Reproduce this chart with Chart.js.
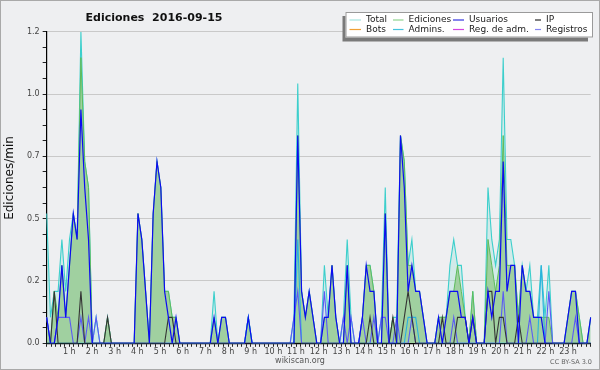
<!DOCTYPE html>
<html><head><meta charset="utf-8">
<script src="https://cdn.jsdelivr.net/npm/chart.js@4/dist/chart.umd.min.js"></script>
<style>
html,body{margin:0;padding:0;background:#eeeff1;}
canvas{display:block;}
</style></head><body>
<canvas id="c" width="600" height="370"></canvas>
<script>
const chartTitle = 'Ediciones  2016-09-15';
const yAxisTitle = 'Ediciones/min';
const footerLeft = 'wikiscan.org';
const footerRight = 'CC BY-SA 3.0';
const hourLabels = ['1 h','2 h','3 h','4 h','5 h','6 h','7 h','8 h','9 h','10 h','11 h','12 h',
  '13 h','14 h','15 h','16 h','17 h','18 h','19 h','20 h','21 h','22 h','23 h'];
const yTickLabels = ['0.0','0.2','0.5','0.7','1.0','1.2'];
const legendNames = ['Total','Ediciones','Usuarios','IP','Bots','Admins.','Reg. de adm.','Registros'];
const legendColors = ['#a6e4df','#8fd48f','#3535e0','#2a2a2a','#f0a035','#45c3de','#d545e0','#8585f2'];

const timeLabels = [];
for (let i = 0; i < 144; i++) {
  timeLabels.push(String(Math.floor(i / 6)).padStart(2, '0') + ':' + String((i % 6) * 10).padStart(2, '0'));
}

const total = [
  0.5,0.1,0.2,0.2,0.4,0.2,0.4,0.5,0.4,1.2,0.7,0.6,
  0,0.1,0,0,0.1,0,0,0,0,0,0,0,
  0.5,0.4,0.2,0,0.5,0.7,0.6,0.2,0.2,0.1,0.1,0,
  0,0,0,0,0,0,0,0,0.2,0,0.1,0.1,
  0,0,0,0,0,0.1,0,0,0,0,0,0,
  0,0,0,0,0,0.1,1.0,0.2,0.1,0.2,0.1,0,
  0,0.3,0.1,0.3,0.1,0,0.1,0.4,0.1,0,0,0.1,
  0.3,0.3,0.2,0,0.1,0.6,0,0.1,0.1,0.8,0.7,0.3,
  0.4,0.2,0.2,0.1,0,0,0,0.1,0.1,0.1,0.3,0.4,
  0.3,0.3,0.1,0,0.2,0,0,0,0.6,0.4,0.3,0.4,
  1.1,0.4,0.4,0.3,0.1,0.3,0.2,0.3,0.1,0.1,0.3,0.1,
  0.3,0,0,0,0,0.1,0.2,0.2,0.1,0,0,0.1
];
const ediciones = [
  0.1,0,0.2,0.1,0.3,0.1,0.3,0.5,0.4,1.1,0.7,0.6,
  0,0,0,0,0.1,0,0,0,0,0,0,0,
  0.5,0.4,0.2,0,0.5,0.7,0.6,0.2,0.2,0.1,0.1,0,
  0,0,0,0,0,0,0,0,0.1,0,0.1,0.1,
  0,0,0,0,0,0.1,0,0,0,0,0,0,
  0,0,0,0,0,0,0.8,0.2,0.1,0.2,0.1,0,
  0,0.1,0.1,0.3,0.1,0,0,0.3,0,0,0,0.1,
  0.3,0.3,0.2,0,0,0.5,0,0.1,0,0.8,0.7,0.3,
  0.3,0.2,0.2,0.1,0,0,0,0.1,0.1,0.1,0.2,0.2,
  0.3,0.2,0.1,0,0.2,0,0,0,0.4,0.3,0.2,0.3,
  0.8,0.3,0.3,0.3,0.1,0.3,0.2,0.2,0.1,0.1,0.1,0.1,
  0.1,0,0,0,0,0.1,0.2,0.2,0.1,0,0,0.1
];
const usuarios = [
  0.1,0,0,0.1,0.3,0.1,0.3,0.5,0.4,0.9,0.6,0.4,
  0,0,0,0,0,0,0,0,0,0,0,0,
  0.5,0.4,0.2,0,0.5,0.7,0.6,0.2,0.1,0,0.1,0,
  0,0,0,0,0,0,0,0,0.1,0,0.1,0.1,
  0,0,0,0,0,0.1,0,0,0,0,0,0,
  0,0,0,0,0,0,0.8,0.2,0.1,0.2,0.1,0,
  0,0.1,0.1,0.3,0.1,0,0,0.3,0,0,0,0.1,
  0.3,0.2,0.2,0,0,0.5,0,0,0,0.8,0.6,0.2,
  0.3,0.2,0.2,0.1,0,0,0,0.1,0,0.1,0.2,0.2,
  0.2,0.1,0.1,0,0.1,0,0,0,0.2,0.1,0.2,0.2,
  0.7,0.2,0.3,0.3,0,0.3,0.2,0.2,0.1,0.1,0.1,0,
  0,0,0,0,0,0.1,0.2,0.2,0,0,0,0.1
];
const ip = [
  0,0,0.2,0,0,0,0,0,0,0.2,0,0,
  0,0,0,0,0.1,0,0,0,0,0,0,0,
  0,0,0,0,0,0,0,0,0.1,0.1,0,0,
  0,0,0,0,0,0,0,0,0,0,0,0,
  0,0,0,0,0,0,0,0,0,0,0,0,
  0,0,0,0,0,0,0,0,0,0,0,0,
  0,0,0,0,0,0,0,0,0,0,0,0,
  0,0.1,0,0,0,0,0,0.1,0,0,0.1,0.2,
  0.1,0,0,0,0,0,0,0,0.1,0,0,0,
  0.1,0.1,0.1,0,0.1,0,0,0,0.2,0.2,0,0.1,
  0.1,0,0,0,0.1,0,0,0,0,0,0,0,
  0,0,0,0,0,0,0,0,0,0,0,0
];
const admins = [
  0,0,0,0,0,0,0,0,0,0,0,0,
  0,0,0,0,0,0,0,0,0,0,0,0,
  0,0,0,0,0,0,0,0,0,0,0,0,
  0,0,0,0,0,0,0,0,0,0,0,0,
  0,0,0,0,0,0.1,0,0,0,0,0,0,
  0,0,0,0,0,0,0.4,0,0,0,0,0,
  0,0,0,0,0,0,0,0,0,0,0,0,
  0,0,0,0,0,0,0,0,0,0,0,0.1,
  0.1,0.1,0,0,0,0,0,0,0,0,0,0,
  0,0,0,0,0,0,0,0,0,0,0,0,
  0,0,0,0,0,0,0,0,0,0,0.3,0,
  0,0,0,0,0,0,0,0,0,0,0,0
];
const registros = [
  0.1,0,0,0.1,0.1,0.1,0.1,0,0,0.1,0,0.1,
  0,0.1,0,0,0,0,0,0,0,0,0,0,
  0,0,0,0,0,0,0,0,0,0,0,0,
  0,0,0,0,0,0,0,0,0,0,0,0,
  0,0,0,0,0,0,0,0,0,0,0,0,
  0,0,0,0,0,0.1,0.2,0,0,0,0,0,
  0,0.2,0,0,0,0,0.1,0,0.1,0,0,0.1,
  0,0,0.1,0,0.1,0.1,0,0,0.1,0,0,0,
  0.1,0,0,0,0,0,0,0,0,0,0,0.1,
  0,0,0,0,0,0,0,0,0,0,0,0,
  0.2,0,0,0,0,0,0,0.1,0,0,0,0,
  0.2,0,0,0,0,0,0,0.1,0,0,0,0
];

const Y_MAX = 1.2, Y_MINOR = 0.06, Y_MAJOR_EVERY = 4;
const HOURS = 24, X_MINOR = 0.2;
const FONT = "'DejaVu Sans', 'Liberation Sans', sans-serif";

const bgPlugin = {
  id: 'bg',
  beforeDraw(chart) {
    const c = chart.ctx;
    c.save();
    c.fillStyle = '#eeeff1';
    c.fillRect(0, 0, chart.width, chart.height);
    c.restore();
  }
};

const decorPlugin = {
  id: 'decor',
  afterDraw(chart) {
    const c = chart.ctx;
    c.save();
    c.strokeStyle = '#a9a9a9';
    c.lineWidth = 1;
    c.strokeRect(0.5, 0.5, chart.width - 1, chart.height - 1);
    c.fillStyle = '#111';
    c.font = 'bold 11px ' + FONT;
    c.textAlign = 'center';
    c.textBaseline = 'alphabetic';
    c.fillText(chartTitle, 154, 20.5);
    c.save();
    c.translate(10, 178);
    c.rotate(-Math.PI / 2);
    c.font = '12px ' + FONT;
    c.textAlign = 'center';
    c.textBaseline = 'middle';
    c.fillStyle = '#111';
    c.fillText(yAxisTitle, 0, 0);
    c.restore();
    c.font = '8px ' + FONT;
    c.fillStyle = '#555';
    c.textBaseline = 'middle';
    c.textAlign = 'center';
    c.fillText(footerLeft, 300, 361);
    c.font = '6.5px ' + FONT;
    c.textAlign = 'right';
    c.fillStyle = '#666';
    c.fillText(footerRight, 592, 362);
    const bx = 345.5, by = 12, bw = 247.5, bh = 25.5;
    c.fillStyle = '#7a7a7a';
    c.fillRect(bx - 3, by + 4, bw - 2, bh);
    c.fillStyle = '#ffffff';
    c.fillRect(bx, by, bw, bh);
    c.strokeStyle = '#9a9a9a';
    c.strokeRect(bx + 0.5, by + 0.5, bw - 1, bh - 1);
    const textX = [366, 408.5, 469, 546];
    const swX = [349.5, 393, 453, 535];
    const rowY = [19.5, 29];
    c.font = '9px ' + FONT;
    c.textAlign = 'left';
    c.textBaseline = 'middle';
    legendNames.forEach((name, k) => {
      const col = k % 4, row = Math.floor(k / 4);
      c.strokeStyle = legendColors[k];
      c.lineWidth = 1.2;
      c.beginPath();
      c.moveTo(swX[col], rowY[row] + 0.5);
      c.lineTo(textX[col] - 5, rowY[row] + 0.5);
      c.stroke();
      c.fillStyle = '#1a1a1a';
      c.fillText(name, textX[col], rowY[row] + 0.5);
    });
    c.restore();
  }
};

function lineDs(label, data, color, extra) {
  return Object.assign({
    label, data, borderColor: color, borderWidth: 1.1, pointRadius: 0,
    tension: 0, fill: false, xAxisID: 'x', yAxisID: 'y'
  }, extra || {});
}

new Chart(document.getElementById('c'), {
  type: 'line',
  data: {
    labels: timeLabels,
    datasets: [
      lineDs('Usuarios', usuarios, '#0b0bf2', { order: 1, borderWidth: 1.2 }),
      lineDs('IP', ip, '#353535', { order: 2 }),
      lineDs('Registros', registros, '#5b5bf4', { order: 3 }),
      lineDs('Admins.', admins, '#2ab2de', { order: 4 }),
      lineDs('Ediciones', ediciones, '#5cbc5c', { order: 5, borderWidth: 1, fill: 'origin', backgroundColor: '#a0d0a0' }),
      lineDs('Total', total, '#3ccfcc', { order: 6, fill: 'origin', backgroundColor: 'rgba(165,228,222,0.4)' })
    ]
  },
  options: {
    responsive: false,
    animation: false,
    devicePixelRatio: 1,
    layout: { padding: { left: 0, right: 9.3, top: 31.7, bottom: 0 } },
    plugins: { legend: { display: false }, title: { display: false }, tooltip: { enabled: false } },
    scales: {
      x: { type: 'category', display: false, offset: false },
      xh: {
        type: 'linear', position: 'bottom', min: 0, max: HOURS,
        afterBuildTicks: (s) => {
          const t = [];
          for (let k = 0; k <= Math.round(HOURS / X_MINOR); k++) t.push({ value: k * X_MINOR });
          s.ticks = t;
        },
        afterFit: (s) => { s.height = 26.7; },
        grid: { drawOnChartArea: false, tickLength: 3.5, tickColor: '#222', tickWidth: 1 },
        border: { color: '#000', width: 1.2 },
        ticks: {
          autoSkip: false, maxRotation: 0, minRotation: 0, padding: 0,
          font: { family: FONT, size: 8 }, color: '#444',
          callback: (v) => {
            const r = Math.round(v);
            return (Math.abs(v - r) < 1e-6 && r >= 1 && r <= hourLabels.length) ? hourLabels[r - 1] : '';
          }
        }
      },
      y: {
        type: 'linear', min: 0, max: Y_MAX,
        afterBuildTicks: (s) => {
          const t = [];
          for (let k = 0; k <= Math.round(Y_MAX / Y_MINOR); k++) t.push({ value: k * Y_MINOR });
          s.ticks = t;
        },
        afterFit: (s) => { s.width = 46.67; },
        grid: {
          color: (ctx) => (ctx.index > 0 && ctx.index % Y_MAJOR_EVERY === 0) ? '#c9c9c9' : 'rgba(0,0,0,0)',
          tickColor: '#222', tickLength: 4, tickWidth: 1
        },
        border: { color: '#000', width: 1.2 },
        ticks: {
          autoSkip: false, padding: 3,
          font: { family: FONT, size: 8 }, color: '#444',
          callback: (v, idx) => (idx % Y_MAJOR_EVERY === 0) ? yTickLabels[idx / Y_MAJOR_EVERY] : ''
        }
      }
    }
  },
  plugins: [bgPlugin, decorPlugin]
});
</script>
</body></html>
